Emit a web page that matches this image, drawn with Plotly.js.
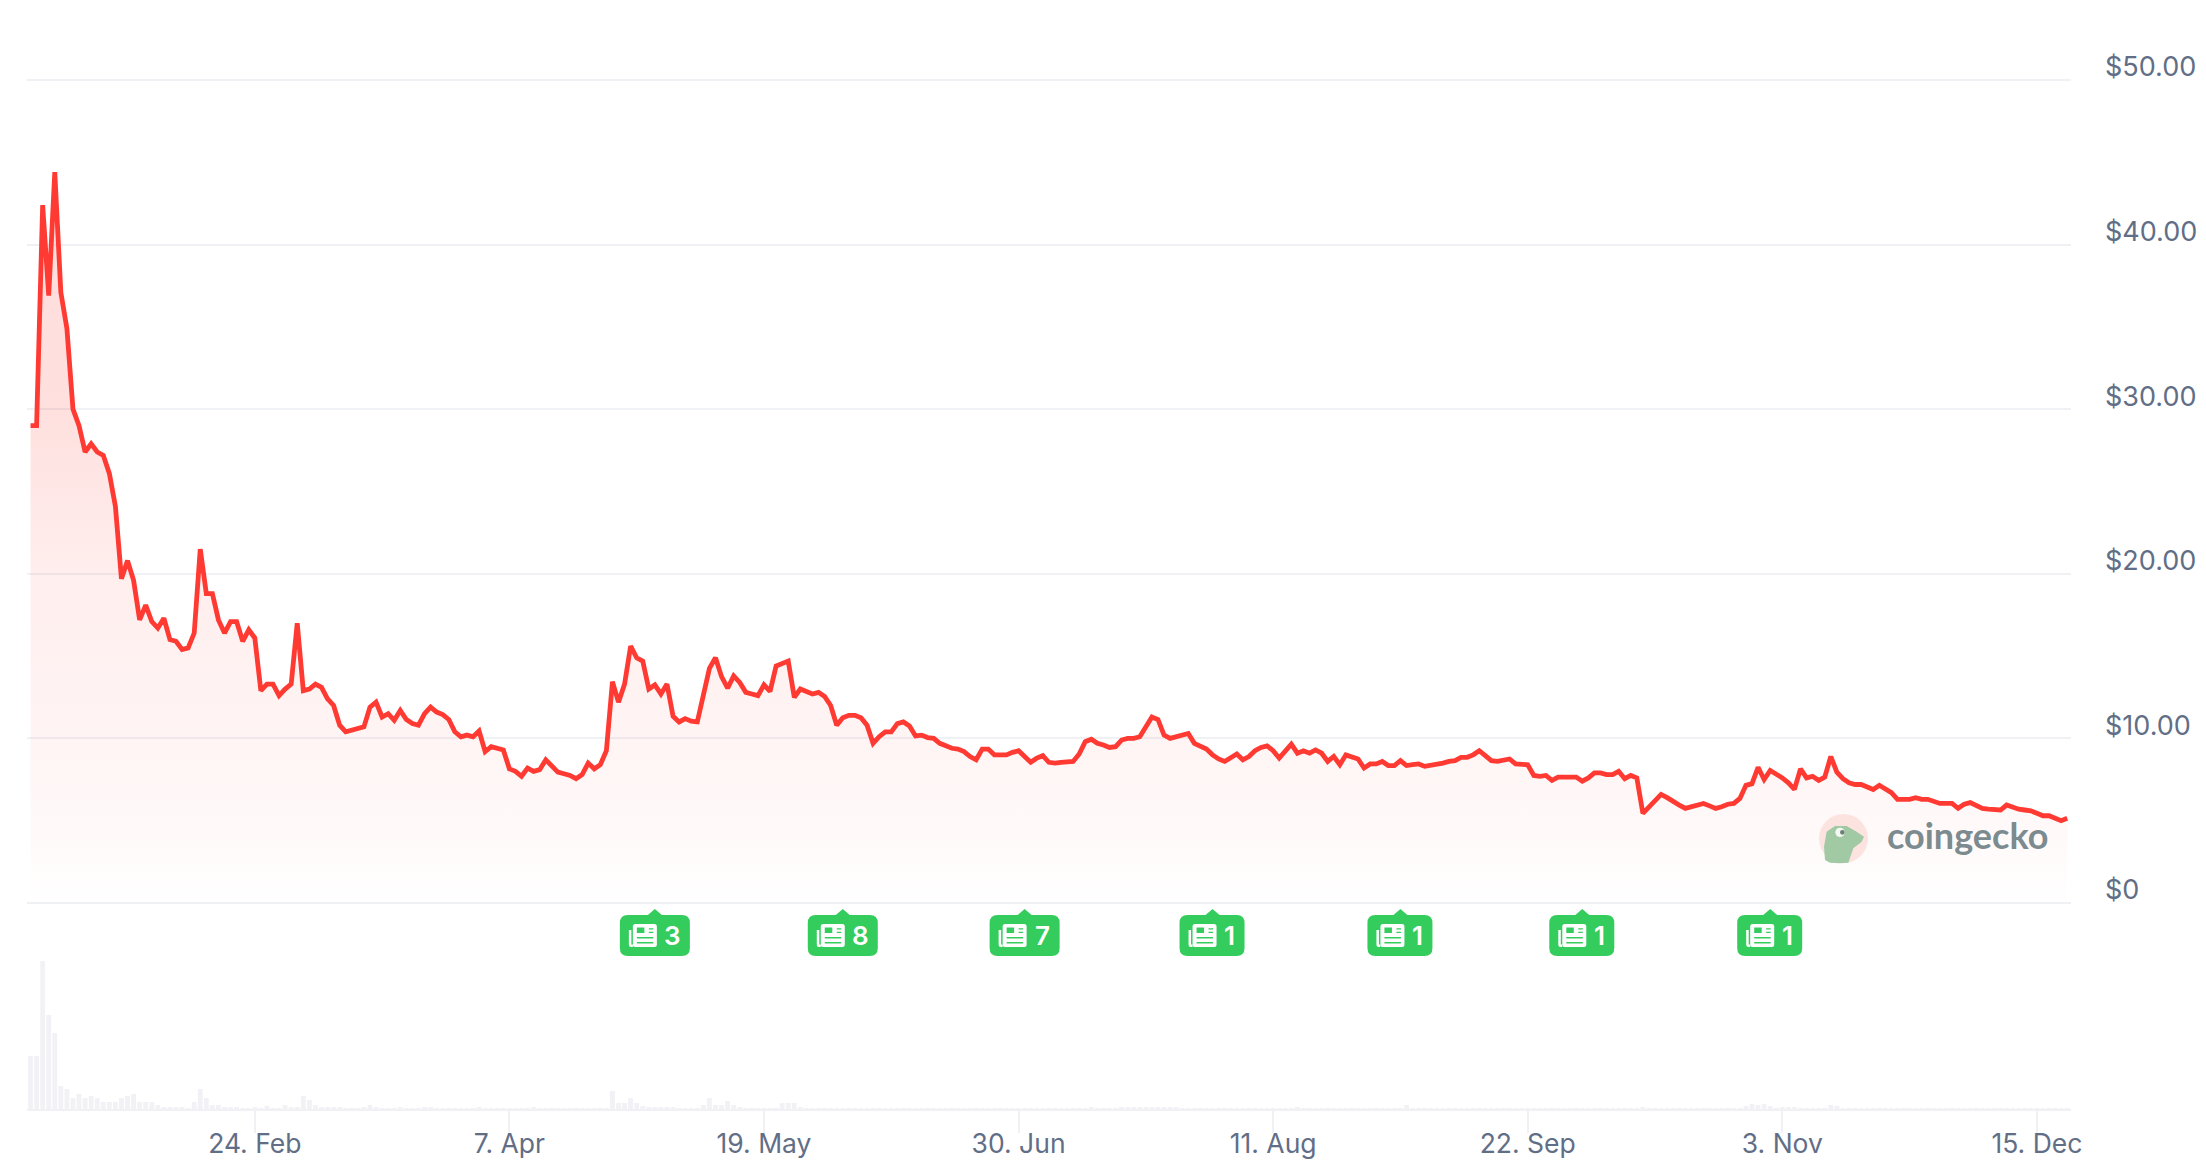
<!DOCTYPE html>
<html>
<head>
<meta charset="utf-8">
<script src="https://cdn.plot.ly/plotly-3.0.1.min.js"></script>
<style>html,body{margin:0;padding:0;background:#fff}#chart{width:2206px;height:1174px}</style>
</head>
<body>
<div id="chart"></div>
<script>
const startDate = '2025-01-18';
const prices = [
29.0,29.0,42.4,36.9,44.4,37.1,34.9,30.0,29.0,27.4,
27.9,27.4,27.2,26.1,24.1,19.7,20.8,19.6,17.2,18.1,
17.1,16.7,17.3,16.0,15.9,15.4,15.5,16.4,21.5,18.8,
18.8,17.2,16.4,17.1,17.1,15.9,16.6,16.1,12.9,13.3,
13.3,12.6,13.0,13.3,17.0,12.9,13.0,13.3,13.1,12.4,
12.0,10.8,10.4,10.5,10.6,10.7,11.9,12.2,11.3,11.5,
11.1,11.7,11.15,10.9,10.8,11.5,11.9,11.6,11.45,11.15,
10.4,10.1,10.2,10.1,10.45,9.2,9.5,9.4,9.3,8.15,
8.0,7.7,8.2,8.0,8.1,8.7,8.3,7.95,7.85,7.75,
7.55,7.8,8.5,8.15,8.4,9.25,13.45,12.2,13.3,15.6,
14.9,14.7,13.0,13.25,12.7,13.3,11.35,11.0,11.2,11.05,
11.0,12.6,14.25,14.9,13.75,13.05,13.8,13.4,12.8,12.7,
12.6,13.25,12.85,14.4,14.55,14.7,12.5,13.0,12.85,12.7,
12.8,12.55,12.0,10.8,11.25,11.4,11.4,11.25,10.8,9.7,
10.1,10.4,10.4,10.9,11.0,10.75,10.15,10.2,10.05,10.0,
9.7,9.55,9.4,9.35,9.2,8.9,8.7,9.35,9.35,9.0,
9.0,9.0,9.15,9.25,8.9,8.55,8.8,8.95,8.55,8.5,
8.55,8.6,8.6,9.05,9.8,9.95,9.7,9.6,9.45,9.5,
9.9,10.0,10.0,10.1,10.75,11.3,11.15,10.2,10.0,10.1,
10.15,10.3,9.7,9.5,9.35,9.0,8.75,8.6,8.8,9.05,
8.7,8.9,9.25,9.45,9.55,9.25,8.8,9.25,9.65,9.1,
9.25,9.1,9.3,9.1,8.6,8.9,8.4,9.0,8.9,8.75,
8.2,8.45,8.45,8.6,8.35,8.35,8.65,8.35,8.4,8.45,
8.3,8.35,8.4,8.5,8.6,8.65,8.85,8.85,9.0,9.25,
8.95,8.65,8.6,8.7,8.75,8.45,8.45,8.4,7.75,7.7,
7.75,7.45,7.65,7.65,7.7,7.65,7.4,7.6,7.9,7.9,
7.8,7.8,8.0,7.55,7.75,7.6,5.45,5.85,6.25,6.6,
6.4,6.15,5.95,5.75,5.85,5.95,6.05,5.9,5.75,5.85,
6.0,6.05,6.35,7.15,7.25,8.25,7.5,8.05,7.85,7.6,
7.3,6.9,8.15,7.6,7.7,7.45,7.65,8.9,7.95,7.55,
7.3,7.2,7.2,7.05,6.9,7.15,6.95,6.7,6.3,6.3,
6.3,6.4,6.3,6.3,6.15,6.05,6.05,6.05,5.75,6.0,
6.1,5.95,5.75,5.7,5.65,5.65,5.95,5.8,5.7,5.65,
5.6,5.45,5.3,5.3,5.15,5.0,5.15
];
const volumes = [
53,53,148,94,76,23,20,11,15,11,
13,11,7,7,7,11,13,15,7,7,
7,4,2,2,2,2,1,7,20,11,
4,4,2,2,2,1,1,2,1,3,
1,1,4,2,2,13,9,4,2,2,
2,2,1,1,1,2,4,2,1,1,
1,2,1,1,1,2,2,1,1,1,
1,1,1,1,2,1,1,1,1,1,
1,1,1,2,1,1,1,1,1,1,
1,1,1,1,1,1,18,6,6,11,
6,3,2,2,2,2,2,1,1,1,
1,4,11,4,4,8,4,2,1,1,
1,1,1,1,6,6,6,2,1,1,
1,1,1,1,1,1,1,1,1,1,
1,1,1,1,1,1,1,1,1,1,
1,1,1,1,1,1,1,1,1,1,
1,1,1,1,1,1,1,1,1,1,
1,1,1,1,1,2,1,1,1,1,
2,2,2,2,2,2,2,2,2,2,
1,1,1,1,1,1,1,1,1,1,
1,1,1,1,1,1,1,1,1,2,
1,1,1,1,1,1,1,1,1,1,
1,1,1,1,1,1,1,4,1,1,
1,1,1,1,1,1,1,1,1,1,
1,1,1,1,1,1,1,1,1,1,
1,1,1,1,1,1,1,1,1,1,
1,1,1,1,1,1,2,1,1,1,
1,1,1,1,1,1,1,1,1,1,
1,1,1,3,5,4,5,3,1,2,
2,2,1,1,1,1,1,4,3,1,
1,1,1,1,1,1,1,1,1,1,
1,1,1,1,1,1,1,1,1,1,
1,1,1,1,1,1,1,1,1,1,
1,1,1,1,1,1,1
];
const tickDates = ['2025-02-24','2025-04-07','2025-05-19','2025-06-30','2025-08-11','2025-09-22','2025-11-03','2025-12-15'];
const tickLabels = ['24. Feb','7. Apr','19. May','30. Jun','11. Aug','22. Sep','3. Nov','15. Dec'];
const priceTicks = [0,10,20,30,40,50];
const priceLabels = ['$0','$10.00','$20.00','$30.00','$40.00','$50.00'];
const newsDates = ['2025-05-01','2025-06-01','2025-07-01','2025-08-01','2025-09-01','2025-10-01','2025-11-01'];
const newsCounts = ['3','8','7','1','1','1','1'];

const dates = prices.map((_, i) => {
  const d = new Date(startDate + 'T00:00:00Z');
  d.setUTCDate(d.getUTCDate() + i);
  return d.toISOString().slice(0, 10);
});

const W = 2206, H = 1174, L = 27, R = 2071, T = 60, B = 1109;
const py = y => (B - y) / (B - T);
const GRID = '#eff1f5', TXT = '#616e86', GREEN = '#34cc5c';

function rr(x0, x1, y0, y1, r) { // y up; y0 bottom, y1 top
  return `M${x0+r},${y1} L${x1-r},${y1} Q${x1},${y1} ${x1},${y1-r} L${x1},${y0+r} Q${x1},${y0} ${x1-r},${y0} L${x0+r},${y0} Q${x0},${y0} ${x0},${y0+r} L${x0},${y1-r} Q${x0},${y1} ${x0+r},${y1} Z`;
}
function box(x0, x1, y0, y1) {
  return `M${x0},${y1} L${x1},${y1} L${x1},${y0} L${x0},${y0} Z`;
}
const shapes = [], annotations = [];
newsDates.forEach((d, k) => {
  const wide = newsCounts[k] !== '1';
  const lx = wide ? -35 : -33, rx = wide ? 35 : 32;
  const ic = lx + 9;
  const base = {xref: 'x', xsizemode: 'pixel', xanchor: d, yref: 'paper', ysizemode: 'pixel', yanchor: py(909), line: {width: 0}};
  const badge = `M0,0 L7,-6 L${rx-8},-6 Q${rx},-6 ${rx},-14 L${rx},-39 Q${rx},-47 ${rx-8},-47 L${lx+8},-47 Q${lx},-47 ${lx},-39 L${lx},-14 Q${lx},-6 ${lx+8},-6 L-7,-6 Z`;
  shapes.push(Object.assign({type: 'path', path: badge, fillcolor: GREEN}, base));
  const icon = rr(ic+4, ic+28, -38, -15, 2.5)
    + box(ic+8, ic+15.5, -24, -18.5)
    + box(ic+20, ic+24.5, -20.5, -19.2)
    + box(ic+20, ic+24.5, -24, -22.7)
    + box(ic+8, ic+24.5, -29.4, -28)
    + box(ic+8, ic+24.5, -34.4, -33);
  shapes.push(Object.assign({type: 'path', path: icon, fillcolor: '#ffffff', fillrule: 'evenodd'}, base));
  shapes.push(Object.assign({type: 'path', path: `M${ic},-21 L${ic+2.5},-21 L${ic+2.5},-35.5 L${ic+4},-35.5 L${ic+4},-38 L${ic+2.5},-38 Q${ic},-38 ${ic},-35.5 Z`, fillcolor: '#ffffff'}, base));
  annotations.push({
    xref: 'x', x: d, yref: 'paper', y: py(935), text: newsCounts[k], showarrow: false,
    xshift: wide ? 18 : 17, xanchor: 'center', yanchor: 'middle',
    font: {family: 'Inter', size: 26, color: '#ffffff', weight: 600}
  });
});

// Logo
const lb = {xref: 'paper', xsizemode: 'pixel', xanchor: 0, yref: 'paper', ysizemode: 'pixel', yanchor: 0, line: {width: 0}};
const zx = z => 1750 + z / 3 - L, zy = z => B - (700 + z / 3);
shapes.push(Object.assign({type: 'circle', x0: 1819 - L, x1: 1868 - L, y0: B - 863, y1: B - 814, fillcolor: '#fde3e0'}, lb));
const gecko = [[225,480],[222,440],[230,395],[255,378],[290,378],[320,395],[342,410],[335,425],[310,445],[295,488],[270,490],[240,488]];
shapes.push(Object.assign({type: 'path', path: 'M' + gecko.map(p => zx(p[0]) + ',' + zy(p[1])).join(' L') + ' Z', fillcolor: '#a1c9a4'}, lb));
shapes.push(Object.assign({type: 'circle', x0: zx(256), x1: zx(284), y0: zy(411), y1: zy(383), fillcolor: '#f4f8f2'}, lb));
shapes.push(Object.assign({type: 'circle', x0: zx(270), x1: zx(284), y0: zy(404), y1: zy(390), fillcolor: '#6d7f75'}, lb));
annotations.push({
  xref: 'paper', yref: 'paper', x: (1885 - L) / (R - L), y: py(835), xanchor: 'left', yanchor: 'middle',
  text: 'coingecko', showarrow: false, font: {family: 'Lato', size: 36, color: '#7b8b8f', weight: 700}
});

const price = {
  type: 'scatter', mode: 'lines', x: dates, y: prices, xaxis: 'x', yaxis: 'y',
  line: {color: '#ff3a33', width: 4.8, shape: 'linear'}, fill: 'tozeroy',
  fillgradient: {type: 'vertical', start: 0, stop: 45, colorscale: [
    [0, 'rgba(250,60,50,0)'], [0.02, 'rgba(250,60,50,0.008)'], [0.11, 'rgba(250,60,50,0.032)'],
    [0.22, 'rgba(250,60,50,0.055)'], [0.44, 'rgba(250,60,50,0.085)'], [0.67, 'rgba(250,60,50,0.16)'], [1, 'rgba(250,60,50,0.17)']
  ]},
  hoverinfo: 'skip'
};
const volume = {
  type: 'bar', x: dates, y: volumes, xaxis: 'x', yaxis: 'y2',
  marker: {color: '#f2f2f6', line: {width: 0}}, hoverinfo: 'skip'
};

const PER_DOLLAR = (903 - 80) / 50;
const layout = {
  width: W, height: H, paper_bgcolor: '#fff', plot_bgcolor: '#fff', showlegend: false,
  margin: {l: L, r: W - R, t: T, b: H - B, pad: 0}, bargap: 0.2,
  xaxis: {
    type: 'date', range: ['2025-01-17 10:00', '2025-12-20 15:00'], anchor: 'y2', showgrid: false, zeroline: false,
    showline: true, linecolor: GRID, linewidth: 2,
    tickmode: 'array', tickvals: tickDates, ticktext: tickLabels,
    ticks: 'outside', ticklen: 22, tickwidth: 2, tickcolor: GRID, ticklabelstandoff: -12,
    tickfont: {family: 'Inter', size: 26.5, color: TXT}
  },
  yaxis: {
    domain: [py(911), 1], range: [-8 / PER_DOLLAR, 50 + (80 - T) / PER_DOLLAR], side: 'right', anchor: 'x',
    showgrid: true, gridcolor: GRID, gridwidth: 2,
    zeroline: false, showline: false, tickmode: 'array', tickvals: priceTicks, ticktext: priceLabels,
    ticks: '', ticklabelstandoff: 33, ticklabelshift: -13,
    tickfont: {family: 'Inter', size: 27, color: TXT}
  },
  yaxis2: {domain: [0, 150 / (B - T)], range: [0, 150], anchor: 'x', visible: false},
  shapes, annotations
};
Plotly.newPlot('chart', [price, volume], layout, {staticPlot: true, displayModeBar: false});
</script>
</body>
</html>
